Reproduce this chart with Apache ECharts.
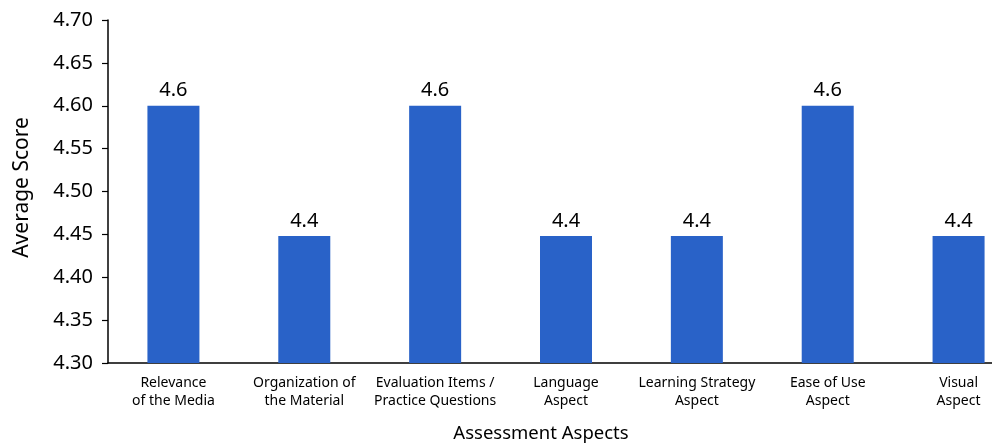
<!DOCTYPE html>
<html>
<head>
<meta charset="utf-8">
<script src="https://cdn.jsdelivr.net/npm/echarts@6/dist/echarts.min.js"></script>
<style>
  html, body { margin: 0; padding: 0; background: #ffffff; overflow: hidden; }
  /* the canvas is wider than the window; the plot's right end runs off-screen */
  #chart { width: 1024px; height: 443px; }
</style>
</head>
<body>
<div id="chart"></div>
<script>
// Assessment aspects and their average scores
const categories = [
  'Relevance\nof the Media',
  'Organization of\nthe Material',
  'Evaluation Items /\nPractice Questions',
  'Language\nAspect',
  'Learning Strategy\nAspect',
  'Ease of Use\nAspect',
  'Visual\nAspect'
];
const averageScores = [4.6, 4.448, 4.6, 4.448, 4.448, 4.6, 4.448];
const yTicks = { min: 4.30, max: 4.70, step: 0.05 };

const FONT = '"Noto Sans", "Open Sans", sans-serif';
const chart = echarts.init(document.getElementById('chart'), null, { renderer: 'canvas' });

chart.setOption({
  animation: false,
  backgroundColor: '#ffffff',
  textStyle: { fontFamily: FONT, color: '#000' },
  grid: { left: 108, top: 20, right: 0, bottom: 80, containLabel: false, outerBoundsMode: 'none' },
  xAxis: {
    type: 'category',
    data: categories,
    boundaryGap: true,
    name: 'Assessment Aspects',
    nameLocation: 'middle',
    nameGap: 61,
    nameTextStyle: { fontFamily: FONT, fontSize: 18.5, color: '#000', padding: [0, 50, 0, 0] },
    axisLine: { lineStyle: { color: '#000', width: 1.5 } },
    axisTick: { show: false },
    axisLabel: { fontFamily: FONT, fontSize: 14, color: '#000', lineHeight: 18, margin: 11, interval: 0 },
    splitLine: { show: false }
  },
  yAxis: {
    type: 'value',
    min: yTicks.min,
    max: yTicks.max,
    interval: yTicks.step,
    name: 'Average Score',
    nameLocation: 'middle',
    nameGap: 75,
    nameTextStyle: { fontFamily: FONT, fontSize: 21, color: '#000', padding: [0, 0, 0, 8] },
    axisLine: { show: true, lineStyle: { color: '#000', width: 1.5 } },
    axisTick: { show: true, length: 6, lineStyle: { color: '#000', width: 1.2 } },
    axisLabel: {
      fontFamily: FONT, fontSize: 20, color: '#000', margin: 15,
      formatter: v => v.toFixed(2)
    },
    splitLine: { show: false }
  },
  series: [{
    type: 'bar',
    data: averageScores,
    barWidth: 52,
    itemStyle: { color: '#2962C8' },
    label: {
      show: true,
      position: 'top',
      distance: 5,
      fontFamily: FONT,
      fontSize: 20,
      color: '#000',
      formatter: p => p.value.toFixed(1)
    }
  }]
});
</script>
</body>
</html>
